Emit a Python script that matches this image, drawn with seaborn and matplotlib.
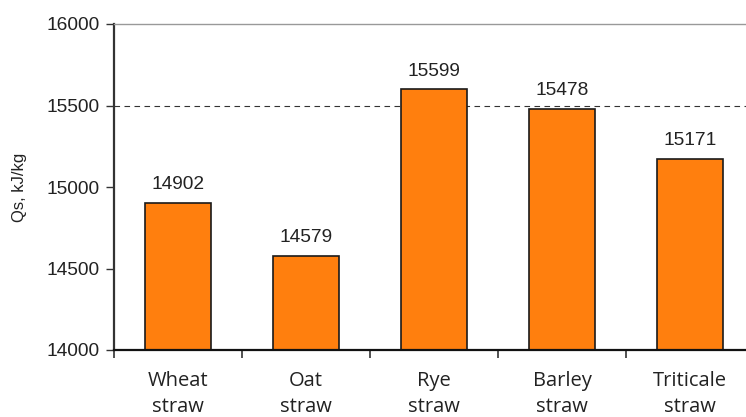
import matplotlib
matplotlib.use("Agg")
import matplotlib.pyplot as plt
import seaborn as sns
import pandas as pd

# Heat of combustion of straw types
categories = ["Wheat\nstraw", "Oat\nstraw", "Rye\nstraw", "Barley\nstraw", "Triticale\nstraw"]
values = [14902, 14579, 15599, 15478, 15171]
y_ticks = [14000, 14500, 15000, 15500, 16000]

df = pd.DataFrame({"straw": categories, "qs": values})

sns.set_theme(style="white")
plt.rcParams["font.family"] = ["Liberation Sans", "DejaVu Sans"]

fig = plt.figure(figsize=(7.46, 4.17), dpi=100)
ax = fig.add_axes([114 / 746, 1 - 350 / 417, 640 / 746, 326 / 417])

sns.barplot(data=df, x="straw", y="qs", color="#ff7f0e", saturation=1,
            width=0.51, edgecolor="#1a1a1a", linewidth=1.2, ax=ax)

ax.set_ylim(14000, 16000)
ax.set_xlim(-0.5, len(categories) - 0.5)
ax.set_yticks(y_ticks)
ax.set_yticklabels([str(t) for t in y_ticks], fontsize=13.8, color="#222222")
ax.axhline(15500, color="#333333", lw=0.8, ls=(0, (5, 4)), zorder=0)

# category labels centred, tick marks on the category boundaries
ax.set_xticks(range(len(categories)))
ax.set_xticklabels(categories, fontsize=14.5, family=["Open Sans", "DejaVu Sans"],
                   color="#222222", linespacing=1.4)
ax.set_xticks([i - 0.5 for i in range(len(categories) + 1)], minor=True)
ax.tick_params(axis="x", which="major", length=0, pad=15)
ax.tick_params(axis="x", which="minor", bottom=True, length=6, width=1.2, color="#333333")
ax.tick_params(axis="y", left=True, length=6, width=1, color="#333333", pad=4)

ax.set_xlabel("")
ax.set_ylabel("Qs, kJ/kg", fontsize=12, color="#222222", labelpad=14)

for i, v in enumerate(values):
    ax.annotate(str(v), (i, v), xytext=(0, 7), textcoords="offset points",
                ha="center", va="bottom", fontsize=13.8, color="#222222")

ax.spines["top"].set_color("#999999")
ax.spines["top"].set_linewidth(1)
ax.spines["right"].set_visible(False)
ax.spines["left"].set_color("#333333")
ax.spines["left"].set_linewidth(1.6)
ax.spines["bottom"].set_color("#111111")
ax.spines["bottom"].set_linewidth(1.6)

fig.savefig("out.png", dpi=100)
